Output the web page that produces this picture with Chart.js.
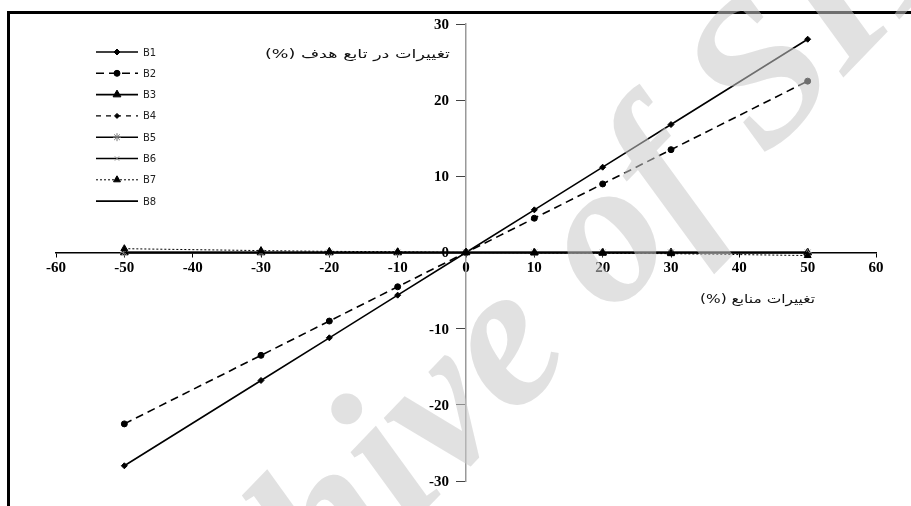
<!DOCTYPE html>
<html>
<head>
<meta charset="utf-8">
<script src="https://cdn.jsdelivr.net/npm/chart.js@4/dist/chart.umd.min.js"></script>
<style>
  html, body { margin: 0; padding: 0; background: #fff; }
  #wrap { position: relative; width: 911px; height: 506px; }
</style>
</head>
<body>
<div id="wrap"><canvas id="c" width="911" height="506"></canvas></div>
<script>
// Resource change (%) at which each run was evaluated
const xValues = [-50, -30, -20, -10, 0, 10, 20, 30, 50];

// Change in objective function (%) for each resource
const b1 = [-28, -16.8, -11.2, -5.6, 0, 5.6, 11.2, 16.8, 28];
const b2 = [-22.5, -13.5, -9, -4.5, 0, 4.5, 9, 13.5, 22.5];
const b3 = [0, 0, 0, 0, 0, 0, 0, 0, 0];
const b4 = [0, 0, 0, 0, 0, 0, 0, 0, 0];
const b5 = [0, 0, 0, 0, 0, 0, 0, 0, 0];
const b6 = [0, 0, 0, 0, 0, 0, 0, 0, 0];
const b7 = [0.5, 0.25, 0.15, 0.1, 0, -0.05, -0.1, -0.15, -0.4];
const b8 = [0, 0, 0, 0, 0, 0, 0, 0, 0];

const seriesNames = ['B1', 'B2', 'B3', 'B4', 'B5', 'B6', 'B7', 'B8'];
const seriesValues = [b1, b2, b3, b4, b5, b6, b7, b8];

// Axis ticks
const xTicks = [-60, -50, -40, -30, -20, -10, 0, 10, 20, 30, 40, 50, 60];
const yTicks = [-30, -20, -10, 0, 10, 20, 30];

const yTitle = 'تغییرات در تابع هدف (%)';
const xTitle = 'تغییرات منابع (%)';

// Line and marker look of every series
const styles = [
  { dash: [], pt: 'rectRot', r: 3, width: 1.6, color: '#000' },
  { dash: [8, 5], pt: 'circle', r: 3, width: 1.6, color: '#000' },
  { dash: [], pt: 'triangle', r: 4.5, width: 1.6, color: '#000' },
  { dash: [5, 5], pt: 'rectRot', r: 2.5, width: 1.2, color: '#000' },
  { dash: [], pt: 'star', r: 4, width: 1.6, color: '#000', ptColor: '#777' },
  { dash: [], pt: 'crossRot', r: 3, width: 1.6, color: '#000', ptColor: '#888' },
  { dash: [2, 2], pt: 'triangle', r: 4, width: 1, color: '#000' },
  { dash: [], pt: false, r: 0, width: 1.6, color: '#000' }
];

const datasets = seriesNames.map((name, i) => {
  const s = styles[i];
  return {
    label: name,
    data: xValues.map((x, k) => ({ x: x, y: seriesValues[i][k] })),
    borderColor: s.color,
    backgroundColor: s.ptColor || s.color,
    pointBorderColor: s.ptColor || s.color,
    pointBackgroundColor: s.ptColor || s.color,
    borderWidth: s.width,
    borderDash: s.dash,
    pointStyle: s.pt,
    pointRadius: s.r,
    pointBorderWidth: 1,
    tension: 0,
    fill: false,
    order: 8 - i
  };
});

const serif = '"Liberation Serif", "Times New Roman", serif';

// Persian text stretched to a given width, right edge fixed
function drawRtl(ctx, text, right, y, width, size) {
  ctx.save();
  ctx.font = size + 'px "DejaVu Sans"';
  ctx.direction = 'rtl';
  ctx.textAlign = 'left';
  ctx.textBaseline = 'middle';
  const w = ctx.measureText(text).width;
  ctx.translate(right - width, y);
  ctx.scale(width / w, 1);
  ctx.fillText(text, 0, 0);
  ctx.restore();
}

// Left/top frame, titles, y labels, legend, overlay text
const decorations = {
  id: 'decorations',
  afterDraw(chart) {
    const ctx = chart.ctx;
    const xs = chart.scales.x;
    const ys = chart.scales.y;
    ctx.save();

    // frame
    ctx.fillStyle = '#000';
    ctx.fillRect(7, 11, 911, 3);
    ctx.fillRect(7, 11, 3, 506);

    // y tick labels, left of the vertical axis
    const axisX = xs.getPixelForValue(0);
    ctx.font = 'bold 15px ' + serif;
    ctx.textAlign = 'right';
    ctx.textBaseline = 'middle';
    ctx.fillStyle = '#000';
    yTicks.forEach(v => {
      ctx.fillText(String(v), axisX - 17, ys.getPixelForValue(v) + 1);
    });

    // axis titles
    ctx.fillStyle = '#111';
    drawRtl(ctx, yTitle, 450, 55, 185, 12);
    drawRtl(ctx, xTitle, 815, 300, 115, 12);

    // legend
    const lx0 = 96, lx1 = 138, ly0 = 52, step = 21.3;
    seriesNames.forEach((name, i) => {
      const s = styles[i];
      const y = ly0 + i * step;
      ctx.beginPath();
      ctx.setLineDash(s.dash);
      ctx.lineWidth = s.width;
      ctx.strokeStyle = s.color;
      ctx.moveTo(lx0, y);
      ctx.lineTo(lx1, y);
      ctx.stroke();
      ctx.setLineDash([]);
      if (s.pt) {
        ctx.fillStyle = s.ptColor || s.color;
        ctx.strokeStyle = s.ptColor || s.color;
        ctx.lineWidth = 1;
        Chart.helpers.drawPoint(ctx, { pointStyle: s.pt, radius: s.r, rotation: 0, borderWidth: 1 }, (lx0 + lx1) / 2, y);
      }
      ctx.fillStyle = '#222';
      ctx.font = '10px "DejaVu Sans"';
      ctx.textAlign = 'left';
      ctx.textBaseline = 'middle';
      ctx.fillText(name, 143, y + 1);
    });

    // overlay lettering
    ctx.translate(522, 334);
    ctx.rotate(-46 * Math.PI / 180);
    ctx.font = 'italic bold 205px ' + serif;
    ctx.textAlign = 'center';
    ctx.textBaseline = 'middle';
    ctx.fillStyle = 'rgba(200,200,200,0.55)';
    ctx.fillText('Archive of SID', 0, 0);
    ctx.restore();
  }
};

new Chart(document.getElementById('c'), {
  type: 'line',
  data: { datasets: datasets },
  options: {
    responsive: false,
    animation: false,
    layout: { padding: { left: 56, right: 35, top: 24, bottom: 25 } },
    plugins: { legend: { display: false }, tooltip: { enabled: false } },
    scales: {
      x: {
        type: 'linear',
        min: -60,
        max: 60,
        position: { y: 0 },
        afterFit(scale) { scale.height = 0; },
        afterBuildTicks(scale) { scale.ticks = xTicks.map(v => ({ value: v })); },
        ticks: { font: { family: serif, size: 15, weight: 'bold' }, color: '#000', padding: 3, maxRotation: 0, autoSkip: false },
        grid: { drawOnChartArea: false, drawTicks: true, tickLength: 4, color: '#000', lineWidth: 1 },
        border: { color: '#000', width: 1.5 }
      },
      y: {
        type: 'linear',
        min: -30,
        max: 30,
        position: { x: 0 },
        afterFit(scale) { scale.width = 0; },
        afterBuildTicks(scale) { scale.ticks = yTicks.map(v => ({ value: v })); },
        ticks: { display: false },
        grid: { drawOnChartArea: false, drawTicks: true, tickLength: 9, color: '#444', lineWidth: 1 },
        border: { color: '#999', width: 1.5 }
      }
    }
  },
  plugins: [decorations]
});
</script>
</body>
</html>
